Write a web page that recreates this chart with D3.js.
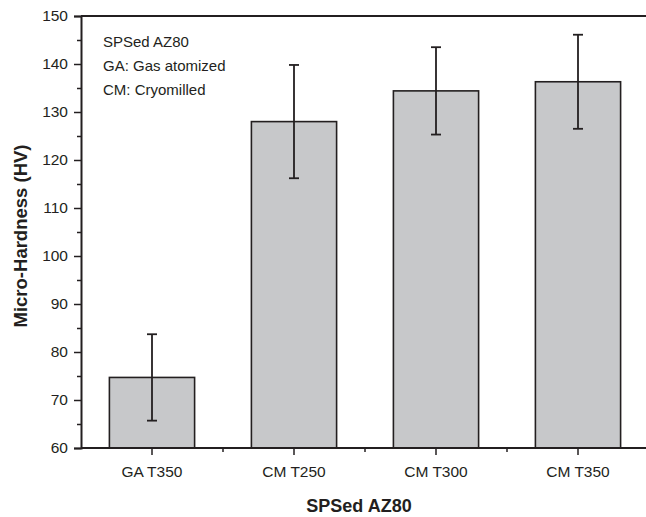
<!DOCTYPE html>
<html>
<head>
<meta charset="utf-8">
<script src="https://cdn.jsdelivr.net/npm/d3@7"></script>
<style>
  html, body { margin: 0; padding: 0; background: #fff; overflow: hidden; }
  svg { display: block; overflow: hidden; font-family: "Liberation Sans", Arial, sans-serif; }
</style>
</head>
<body>
<svg id="chart" width="646" height="517"></svg>
<script>
const categories = ["GA T350", "CM T250", "CM T300", "CM T350"];
const means = [74.7, 128.0, 134.4, 136.3];
const errors = [9.0, 11.8, 9.1, 9.8];
const yMajorTicks = [60, 70, 80, 90, 100, 110, 120, 130, 140, 150];
const yMinorTicks = [65, 75, 85, 95, 105, 115, 125, 135, 145];
const annotations = ["SPSed AZ80", "GA: Gas atomized", "CM: Cryomilled"];
const xTitle = "SPSed AZ80";
const yTitle = "Micro-Hardness (HV)";

(function () {
const ink = "#231f20";
const svg = d3.select("#chart");
const W = 646;
const pL = 81, pR = 649, pT = 16, pB = 448;

const x = d3.scaleBand().domain(categories).range([pL, pR])
  .paddingInner(0.4).paddingOuter(0.2);
const y = d3.scaleLinear().domain([60, 150]).range([pB, pT]);

const data = categories.map((c, i) => ({ c, m: means[i], e: errors[i] }));

// bars
svg.append("g").selectAll("rect").data(data).join("rect")
  .attr("x", d => x(d.c))
  .attr("y", d => y(d.m))
  .attr("width", x.bandwidth())
  .attr("height", d => y(60) - y(d.m))
  .attr("fill", "#c7c8ca")
  .attr("stroke", ink)
  .attr("stroke-width", 1.6);

// error bars
const eg = svg.append("g").attr("stroke", ink).attr("stroke-width", 1.8);
data.forEach(d => {
  const cx = x(d.c) + x.bandwidth() / 2;
  eg.append("line").attr("x1", cx).attr("x2", cx).attr("y1", y(d.m + d.e)).attr("y2", y(d.m - d.e));
  eg.append("line").attr("x1", cx - 5).attr("x2", cx + 5).attr("y1", y(d.m + d.e)).attr("y2", y(d.m + d.e));
  eg.append("line").attr("x1", cx - 5).attr("x2", cx + 5).attr("y1", y(d.m - d.e)).attr("y2", y(d.m - d.e));
});

// top frame line (plot box continues past the right edge of the picture)
svg.append("line").attr("x1", pL).attr("x2", W).attr("y1", pT).attr("y2", pT)
  .attr("stroke", ink).attr("stroke-width", 2);

// y axis
const yAxis = svg.append("g").attr("transform", `translate(${pL},0)`)
  .call(d3.axisLeft(y).tickValues(yMajorTicks).tickSize(7).tickPadding(6).tickFormat(d3.format("d")));
yAxis.select(".domain").attr("stroke", ink).attr("stroke-width", 2);
yAxis.selectAll(".tick line").attr("stroke", ink).attr("stroke-width", 1.5);
yAxis.selectAll(".tick text").attr("fill", ink).style("font-size", "15.5px");
const yMinor = svg.append("g").attr("transform", `translate(${pL},0)`)
  .call(d3.axisLeft(y).tickValues(yMinorTicks).tickSize(4).tickFormat(""));
yMinor.select(".domain").remove();
yMinor.selectAll(".tick line").attr("stroke", ink).attr("stroke-width", 1.5);

// x axis
const xAxis = svg.append("g").attr("transform", `translate(0,${pB})`)
  .call(d3.axisBottom(x).tickSize(7).tickPadding(11).tickSizeOuter(0));
xAxis.select(".domain").remove();
xAxis.append("line").attr("x1", pL).attr("x2", W).attr("y1", 0).attr("y2", 0)
  .attr("stroke", ink).attr("stroke-width", 2);
xAxis.selectAll(".tick line").attr("stroke", ink).attr("stroke-width", 1.5);
xAxis.selectAll(".tick text").attr("fill", ink).style("font-size", "15.5px");
const minorPos = categories.slice(1).map(c => x(c) - x.step() * x.paddingInner() / 2);
svg.append("g").selectAll("line").data(minorPos).join("line")
  .attr("x1", d => d).attr("x2", d => d)
  .attr("y1", pB).attr("y2", pB + 4)
  .attr("stroke", ink).attr("stroke-width", 1.5);

// annotations
svg.append("g").selectAll("text").data(annotations).join("text")
  .attr("x", 103)
  .attr("y", (d, i) => 47 + i * 24)
  .attr("fill", ink)
  .style("font-size", "15px")
  .text(d => d);

// axis titles
svg.append("text")
  .attr("x", 359).attr("y", 512)
  .attr("text-anchor", "middle")
  .attr("fill", ink)
  .style("font-size", "18px").style("font-weight", "bold")
  .text(xTitle);
svg.append("text")
  .attr("transform", "translate(27,236) rotate(-90)")
  .attr("text-anchor", "middle")
  .attr("fill", ink)
  .style("font-size", "18.5px").style("font-weight", "bold")
  .text(yTitle);
})();
</script>
</body>
</html>
